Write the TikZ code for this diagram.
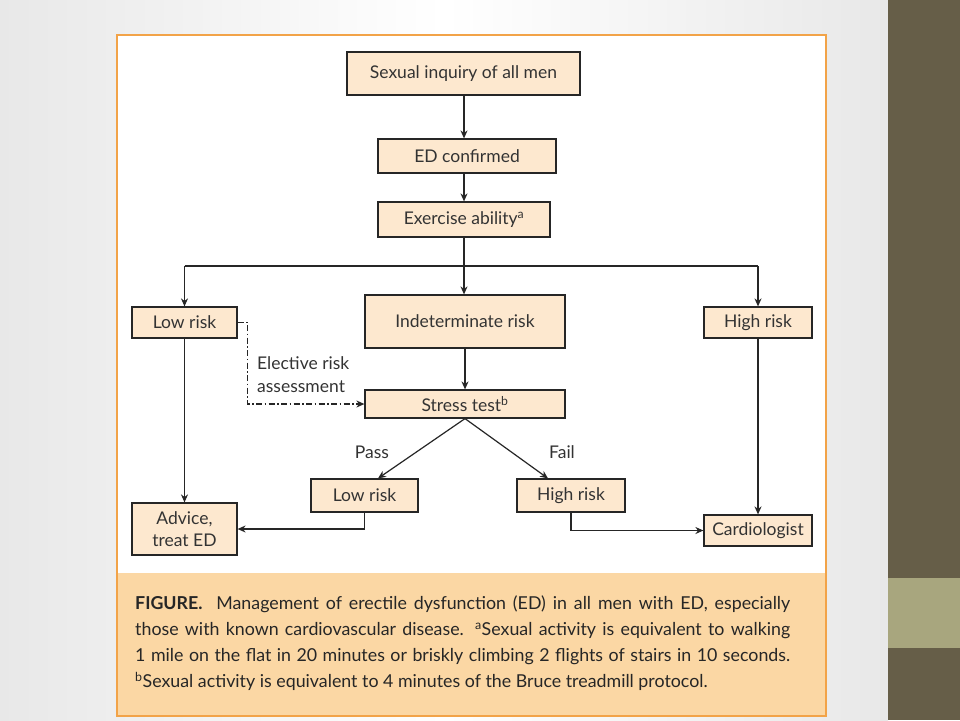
\documentclass[tikz,border=0pt]{standalone}
\usepackage{fontspec}
\setmainfont{Lato}
\usetikzlibrary{arrows.meta,shadings}
\definecolor{boxfill}{HTML}{FDE8CF}
\definecolor{frameor}{HTML}{F2A348}
\definecolor{capfill}{HTML}{FBD7A4}
\definecolor{txt}{HTML}{333333}
\definecolor{bardark}{HTML}{665E48}
\definecolor{barlight}{HTML}{A8A67E}
\tikzset{
  bx/.style={draw=black!85, line width=1.2pt, fill=boxfill, text=txt, font=\fontsize{17.5}{19}\selectfont, inner sep=0pt, align=center},
  arr/.style={-{Stealth[length=8pt,width=7pt]}, line width=1.2pt, black!85},
  lbl/.style={text=txt, font=\fontsize{17.5}{19}\selectfont, inner sep=0pt}
}
\begin{document}
\begin{tikzpicture}[x=1pt,y=-1pt]
\useasboundingbox (0,0) rectangle (960,720);
% slide background
\shade[left color=black!9, right color=black!9, middle color=white, shading=axis] (0,0) rectangle (888,720);
\fill[bardark] (888,0) rectangle (960,720);
\fill[barlight] (888,578) rectangle (960,648);
% figure frame
\fill[white] (117,35) rectangle (826,716);
\fill[capfill] (117,573) rectangle (826,716);
\draw[frameor, line width=2.5pt] (117,35) rectangle (826,716);
% nodes
\node[bx, minimum width=233pt, minimum height=43pt] (inq) at (463.5,73.5) {Sexual inquiry of all men};
\node[bx, minimum width=178pt, minimum height=34pt] (edc) at (467,156) {ED confirmed};
\node[bx, minimum width=172pt, minimum height=35pt] (exa) at (464,219.5) {Exercise ability\textsuperscript{a}};
\node[bx, minimum width=105pt, minimum height=31pt] (lowl) at (184.5,322.5) {Low risk};
\node[bx, minimum width=200pt, minimum height=53pt] (ind) at (465,321.5) {Indeterminate risk};
\node[bx, minimum width=108pt, minimum height=31pt] (highr) at (758,322.5) {High risk};
\node[bx, minimum width=200pt, minimum height=28pt] (st) at (465,404) {Stress test\textsuperscript{b}};
\node[bx, minimum width=107pt, minimum height=33pt] (lowm) at (364.5,495.5) {Low risk};
\node[bx, minimum width=108pt, minimum height=33pt] (highm) at (571,495.5) {High risk};
\node[bx, minimum width=105pt, minimum height=52pt, font=\fontsize{17.5}{22}\selectfont] (adv) at (184.5,529) {Advice,\\treat ED};
\node[bx, minimum width=108pt, minimum height=31pt] (card) at (758,530.5) {Cardiologist};
% coordinates
\coordinate (split) at (464,266);
% connectors
\draw[arr] (inq.south -| split) -- (edc.north -| split);
\draw[arr] (edc.south -| split) -- (exa.north -| split);
\draw[arr] (exa.south -| split) -- (ind.north -| split);
\draw[arr] (split -| lowl.north) -- (lowl.north);
\draw[arr] (split -| highr.north) -- (highr.north);
\draw[line width=1.2pt, black!85] (split -| lowl.north) -- (split -| highr.north);
\draw[arr] (ind) -- (st);
\draw[arr, dash pattern=on 6pt off 2.5pt on 1.5pt off 2.5pt] (lowl.east) -- ++(10,0) |- (st.west);
\node[lbl, anchor=west, align=left, font=\fontsize{17.5}{23}\selectfont] (ela) at (257,374.5) {Elective risk\\assessment};
\draw[arr] (st.south) -- (lowm.north -| 378,0);
\draw[arr] (st.south) -- (highm.north -| 548,0);
\node[lbl] (pass) at (372,452) {Pass};
\node[lbl] (fail) at (562,452) {Fail};
\draw[arr] (lowl) -- (adv);
\draw[arr] (highr) -- (card);
\draw[arr] (lowm.south) |- (adv.east);
\draw[arr] (highm.south) |- (card.west);
% caption
\node[text=black!85, anchor=base west, inner sep=0pt, text width=655pt, align=justify, font=\fontsize{17.8}{26.3}\selectfont] (cap) at (135,609)
{\textbf{FIGURE.}\ \ Management of erectile dysfunction (ED) in all men with ED, especially\linebreak
those with known cardiovascular disease. \textsuperscript{a}Sexual activity is equivalent to walking\linebreak
1 mile on the flat in 20 minutes or briskly climbing 2 flights of stairs in 10 seconds.\linebreak
\textsuperscript{b}Sexual activity is equivalent to 4 minutes of the Bruce treadmill protocol.};
\end{tikzpicture}
\end{document}
